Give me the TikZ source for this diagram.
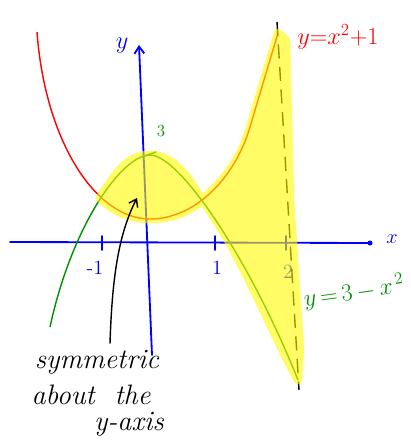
\documentclass[tikz,border=0pt]{standalone}
\usepackage{amsmath}
\usepackage{tikz}
\usetikzlibrary{arrows.meta, calc}
\definecolor{Ink}       {RGB}{0,   0,   0}
\definecolor{AxisBlue}  {RGB}{0,   0, 255}
\definecolor{CurveRed}  {RGB}{255, 0,   0}
\definecolor{CurveGreen}{RGB}{0, 145,   0}
\definecolor{Marker}    {RGB}{255,250,  0}

\begin{document}
\begin{tikzpicture}[x=0.025cm, y=-0.025cm, >=Stealth,
  axis/.style   = {draw=AxisBlue, line width=1.3pt, line cap=round},
  tick/.style   = {draw=AxisBlue, line width=1.1pt, line cap=round},
  curve/.style  = {line width=1pt, line join=round},
  hilite/.style = {fill=Marker, draw=Marker, line width=6pt,
                   line join=round, line cap=round},
  blbl/.style   = {text=AxisBlue, font=\Large, inner sep=0pt},
  note/.style   = {font=\fontsize{20}{24}\selectfont\itshape, inner sep=0pt}
]
  \useasboundingbox (0,0) rectangle (410,440);

  %% axes
  \coordinate (xl) at (10,242);
  \coordinate (xr) at (370,243);
  \coordinate (yb) at (152,355);
  \coordinate (yt) at (139,45);
  \draw[axis] (xl) -- (xr);
  \fill[AxisBlue] (xr) circle (1.8pt);
  \draw[axis, -{Straight Barb[length=5pt, width=7pt]}] (yb) -- (yt);
  \node[blbl] (xlab) at (392,239) {$x$};
  \node[blbl, font=\LARGE] (ylab) at (122,46) {$y$};

  %% ticks
  \foreach \tx in {102, 215, 286}
    \draw[tick] (\tx,236) -- (\tx,250);
  \node[blbl] (lm1) at (95,268)  {-1};
  \node[blbl] (l1)  at (217,268) {1};
  \node[blbl] (l2)  at (288,272) {2};

  %% the two parabolas
  \coordinate (rmin) at (150,219);
  \coordinate (gtop) at (150,155);
  \draw[curve, CurveRed] (37,32) .. controls (45,140) and (95,219) .. (rmin)
    .. controls (195,219) and (235,178) .. (250,127) -- (278,33);
  \draw[curve, CurveGreen] (50,327) .. controls (72,225) and (122,155) .. (gtop)
    .. controls (180,155) and (250,260) .. (298,380);
  \draw[CurveGreen, line width=1.1pt, line cap=round] (142,157) -- (156,152);
  \node[text=CurveGreen, font=\large, inner sep=0pt] (three) at (161,131) {3};

  %% line x = 2
  \coordinate (dtop) at (277,22);
  \coordinate (dbot) at (299,390);
  \draw[Ink, line width=1pt, dash pattern=on 10pt off 6pt] (dtop) -- (dbot);

  %% curve labels
  \node[text=CurveRed, font=\LARGE, inner sep=0pt] (redlab) at (338,37)
    {$y{=}x^2{+}1$};
  \node[text=CurveGreen, font=\LARGE, inner sep=0pt, rotate=8] (grnlab)
    at (354,292) {$y\,{=}\,3\,{-}\,x^{\,2}$};

  %% shaded area
  \begin{scope}[transparency group, opacity=0.6]
    \path[hilite] (100,198) .. controls (118,168) and (130,155) .. (150,155)
      .. controls (175,155) and (190,180) .. (202,200)
      .. controls (190,212) and (172,219) .. (150,219)
      .. controls (128,219) and (112,210) .. (100,198) -- cycle;
    \path[hilite] (202,200) .. controls (225,180) and (243,155) .. (250,127)
      -- (278,33) -- (286,40) -- (290,200) -- (300,350) -- (298,380)
      .. controls (270,330) and (240,250) .. (202,200) -- cycle;
  \end{scope}

  %% note with arrow
  \node[note] (sym) at (97,362) {symmetric};
  \node[note] (abt) at (91,395) {about \ the};
  \node[note] (yax) at (129,424) {y-axis};
  \coordinate (lens) at (137,198);
  \draw[Ink, line width=1pt, -{Straight Barb[length=5pt, width=7pt]}]
    ($(sym.north)+(13,-6)$) .. controls (112,280) and (118,235) .. (lens);
\end{tikzpicture}
\end{document}
